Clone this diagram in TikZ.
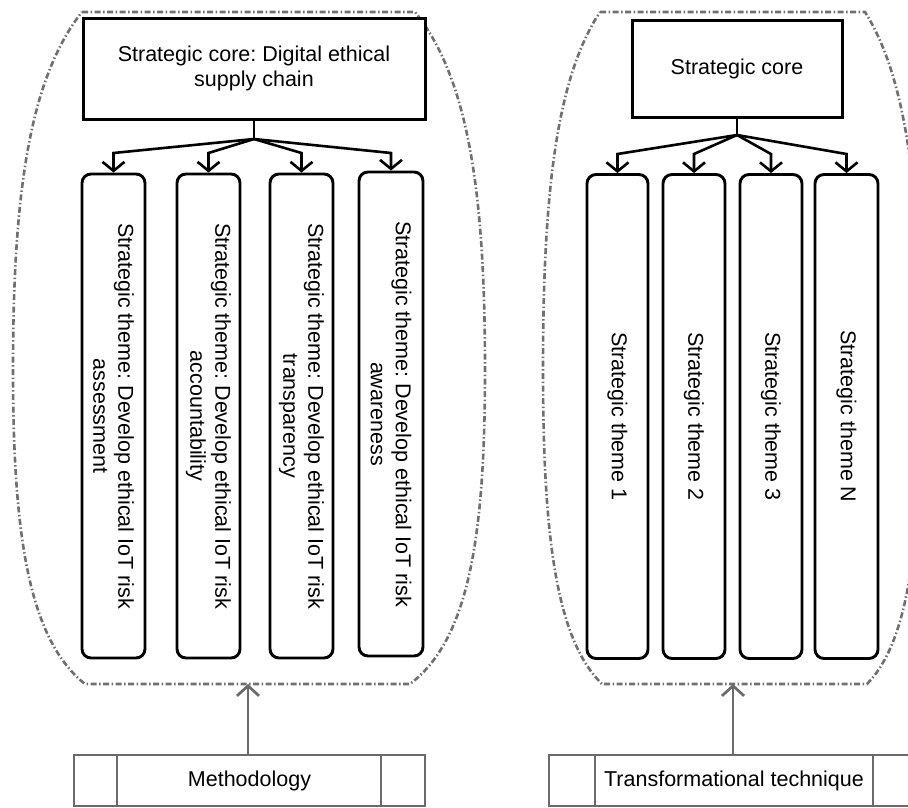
\documentclass[tikz,border=0pt]{standalone}
\usepackage{fontspec}
\setmainfont{Liberation Sans}
\usetikzlibrary{arrows.meta}
\definecolor{outl}{HTML}{707070}
\definecolor{boxgray}{HTML}{6A6A6A}
\frenchspacing
\begin{document}
\begin{tikzpicture}[x=1pt,y=-1pt,
  txt/.style={font=\fontsize{21.5}{25}\selectfont},
  corebox/.style={txt, draw=black, line width=3pt, fill=white, align=center, inner sep=2pt},
  themebox/.style={txt, draw=black, line width=2.9pt, rounded corners=9pt, rotate=-90,
    align=center, minimum width=484pt, inner sep=3pt},
  tree/.style={line width=2.6pt, -{Straight Barb[length=9pt,width=22pt]}},
  outline/.style={draw=outl, line width=2.6pt, dash pattern=on 6pt off 2.5pt on 1.5pt off 2.5pt},
  methbox/.style={txt, draw=boxgray, line width=2.3pt, fill=white},
  divider/.style={draw=boxgray, line width=2.3pt},
  uparr/.style={draw=boxgray, line width=2.7pt, -{Straight Barb[length=10pt,width=22pt]}}
]
\useasboundingbox (0,0) rectangle (908,807);
\clip (0,0) rectangle (908,807);
\fill[white] (0,0) rectangle (908,807);

% ---------- left group ----------
\draw[outline] (82,12) -- (415,12)
  .. controls (470,80) and (485,200) .. (485,370)
  .. controls (485,540) and (468,640) .. (410,684)
  -- (85,684)
  .. controls (30,640) and (13,540) .. (13,370)
  .. controls (13,200) and (28,80) .. cycle;
\coordinate (o1b) at (248,684);

\node[corebox, minimum width=342pt, minimum height=101pt] (c1) at (254,68.5)
  {Strategic core: Digital ethical\\supply chain};

\node[themebox, minimum height=63pt] (a1) at (113.5,416) {Strategic theme: Develop ethical IoT risk\\assessment};
\node[themebox, minimum height=63pt] (a2) at (208.5,416) {Strategic theme: Develop ethical IoT risk\\accountability};
\node[themebox, minimum height=63pt] (a3) at (301.5,416) {Strategic theme: Develop ethical IoT risk\\transparency};
\node[themebox, minimum height=64pt] (a4) at (391,414) {Strategic theme: Develop ethical IoT risk\\awareness};

\coordinate (j1) at (254,139);
\coordinate (k1) at (0,153);
\draw[line width=2.6pt] (c1.south) -- (j1);
\foreach \n in {a1,a2,a3,a4}{
  \draw[tree] (j1) -- (\n.west |- k1) -- (\n.west);
}

\node[methbox, minimum width=351pt, minimum height=51pt] (m) at (249.5,780.5) {Methodology};
\draw[divider] ([xshift=44pt]m.north west) -- ([xshift=44pt]m.south west);
\draw[divider] ([xshift=-45pt]m.north east) -- ([xshift=-45pt]m.south east);
\draw[uparr] (m.north -| o1b) -- (o1b);

% ---------- right group ----------
\draw[outline] (600,12) -- (865,12)
  .. controls (908,80) and (921,200) .. (921,370)
  .. controls (921,540) and (910,640) .. (867,684)
  -- (602,684)
  .. controls (557,640) and (543,540) .. (543,370)
  .. controls (543,200) and (555,80) .. cycle;
\coordinate (o2b) at (733,684);

\node[corebox, minimum width=210pt, minimum height=97pt] (c2) at (737,68.5) {Strategic core};

\node[themebox, minimum height=61pt] (b1) at (617.5,416.5) {Strategic theme 1};
\node[themebox, minimum height=62pt] (b2) at (694,416.5) {Strategic theme 2};
\node[themebox, minimum height=62pt] (b3) at (771,416.5) {Strategic theme 3};
\node[themebox, minimum height=63pt] (b4) at (846.5,416.5) {Strategic theme N};

\coordinate (j2) at (737,135);
\coordinate (k2) at (0,154);
\draw[line width=2.6pt] (c2.south) -- (j2);
\foreach \n in {b1,b2,b3,b4}{
  \draw[tree] (j2) -- (\n.west |- k2) -- (\n.west);
}

\node[methbox, minimum width=370pt, minimum height=51pt] (t) at (734,780.5) {Transformational technique};
\draw[divider] ([xshift=47pt]t.north west) -- ([xshift=47pt]t.south west);
\draw[divider] ([xshift=-47pt]t.north east) -- ([xshift=-47pt]t.south east);
\draw[uparr] (t.north -| o2b) -- (o2b);
\end{tikzpicture}
\end{document}
